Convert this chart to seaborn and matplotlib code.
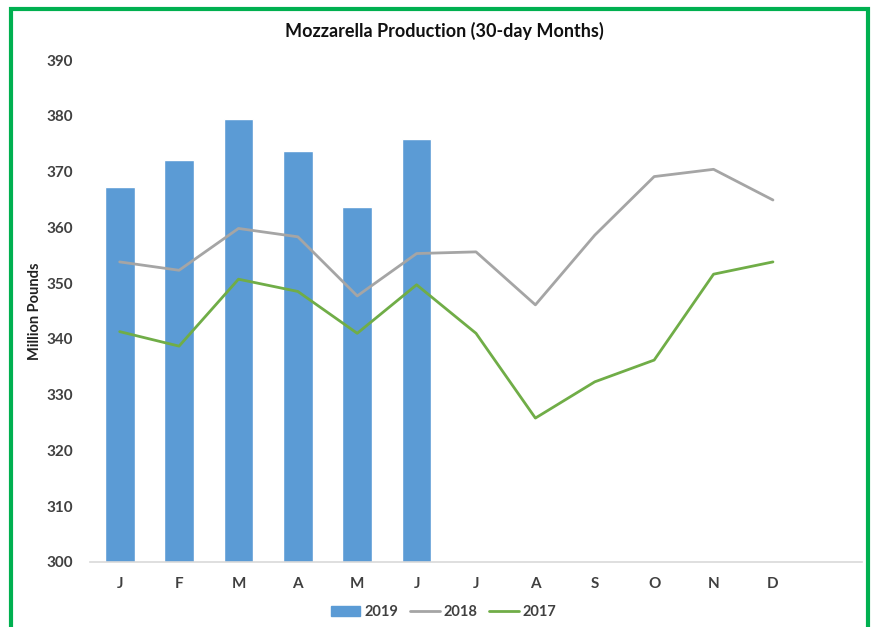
import numpy as np
import pandas as pd
import seaborn as sns
import matplotlib.pyplot as plt
from matplotlib.patches import Rectangle, Patch
from matplotlib.lines import Line2D

# month keys and the single-letter labels shown on the axis
months = ['Jan', 'Feb', 'Mar', 'Apr', 'May', 'Jun',
          'Jul', 'Aug', 'Sep', 'Oct', 'Nov', 'Dec']
month_letters = ['J', 'F', 'M', 'A', 'M', 'J', 'J', 'A', 'S', 'O', 'N', 'D']

# million pounds
prod_2019 = [367.2, 372.1, 379.4, 373.7, 363.6, 375.8]
prod_2018 = [353.8, 352.3, 359.8, 358.3, 347.7, 355.3,
             355.6, 346.1, 358.6, 369.1, 370.4, 364.9]
prod_2017 = [341.3, 338.7, 350.7, 348.5, 341.0, 349.7,
             341.0, 325.8, 332.3, 336.2, 351.6, 353.8]

yticks = list(range(300, 391, 10))

c_2019 = '#5B9BD5'
c_2018 = '#A5A5A5'
c_2017 = '#70AD47'
txt = '#404040'

sns.set_style('white')
plt.rcParams['font.family'] = ['Lato', 'DejaVu Sans']

bars = pd.DataFrame({'month': months[:6], 'value': prod_2019})
lines = pd.DataFrame({'pos': np.arange(len(months)),
                      '2018': prod_2018, '2017': prod_2017})

fig = plt.figure(figsize=(8.78, 6.27), dpi=100)
ax = fig.add_axes([0.1025, 0.1037, 0.8793, 0.8006])

sns.barplot(data=bars, x='month', y='value', order=months, color=c_2019,
            saturation=1, width=0.5, ax=ax)
sns.lineplot(data=lines, x='pos', y='2018', color=c_2018, linewidth=2, ax=ax)
sns.lineplot(data=lines, x='pos', y='2017', color=c_2017, linewidth=2, ax=ax)

ax.set_xlim(-0.5, len(months) + 0.5)
ax.set_ylim(300, 390)
ax.set_yticks(yticks)
ax.set_yticklabels([str(t) for t in yticks], fontsize=11, fontweight='bold', color=txt)
ax.set_xticks(range(len(months)))
ax.set_xticklabels(month_letters, fontsize=11, fontweight='bold', color=txt)
ax.tick_params(axis='both', length=0)
ax.tick_params(axis='x', pad=11)
ax.tick_params(axis='y', pad=12)
ax.set_xlabel('')
ax.set_ylabel('Million Pounds', fontsize=10.5, fontweight='bold', color='#222222')
ax.yaxis.set_label_coords(-0.062, 0.5)

for s in ['top', 'right', 'left']:
    ax.spines[s].set_visible(False)
ax.spines['bottom'].set_color('#D9D9D9')
ax.spines['bottom'].set_linewidth(1.2)

fig.text(444 / 878, 1 - 31 / 627, 'Mozzarella Production (30-day Months)',
         ha='center', va='center', fontsize=13, fontweight='bold', color='#111111')

handles = [Patch(color=c_2019, label='2019'),
           Line2D([], [], color=c_2018, linewidth=2, label='2018'),
           Line2D([], [], color=c_2017, linewidth=2, label='2017')]
fig.legend(handles=handles, loc='center', bbox_to_anchor=(444 / 878, 1 - 612 / 627),
           ncol=3, frameon=False, handlelength=2.0, handletextpad=0.3, columnspacing=0.8,
           prop={'size': 10.5, 'weight': 'bold'})
for t in fig.legends[0].get_texts():
    t.set_color(txt)

# green frame around the whole picture
fig.patches.append(Rectangle((11 / 878, -0.05), 857 / 878, 1 - 9 / 627 + 0.05,
                             transform=fig.transFigure, fill=False,
                             edgecolor='#00B050', linewidth=3, zorder=10))

fig.savefig('out.png', dpi=100)
